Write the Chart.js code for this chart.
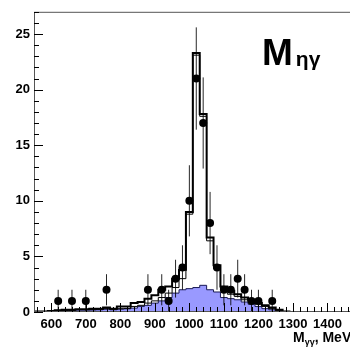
<!DOCTYPE html>
<html>
<head>
<meta charset="utf-8">
<script src="https://cdn.jsdelivr.net/npm/chart.js@4.4.1/dist/chart.umd.min.js"></script>
<style>
  html, body { margin: 0; padding: 0; overflow: hidden; background: #fff; }
  #wrap { width: 380px; height: 349px; }
</style>
</head>
<body>
<div id="wrap"><canvas id="myChart"></canvas></div>
<script>
    // 20 MeV bins
    var binWidth = 20;
    var binCenters = [560, 580, 600, 620, 640, 660, 680, 700, 720, 740, 760, 780, 800, 820, 840, 860, 880, 900, 920,
        940, 960, 980, 1000, 1020, 1040, 1060, 1080, 1100, 1120, 1140, 1160, 1180, 1200, 1220, 1240, 1260, 1280];
    var totalFit = [0.05, 0.05, 0.1, 0.15, 0.2, 0.2, 0.25, 0.25, 0.3, 0.3, 0.4, 0.3, 0.5, 0.5, 0.8, 0.9, 1.2, 1.5, 2.0,
        2.3, 3.0, 3.8, 9.0, 23.3, 17.8, 6.7, 4.2, 2.3, 1.9, 1.6, 1.3, 1.1, 0.8, 0.6, 0.4, 0.2, 0.05];
    var otherFit = [0.05, 0.05, 0.1, 0.1, 0.15, 0.15, 0.2, 0.2, 0.2, 0.25, 0.3, 0.25, 0.3, 0.3, 0.5, 0.6, 0.8, 1.0, 1.3,
        1.7, 2.2, 3.0, 8.8, 23.1, 17.6, 6.4, 3.9, 2.0, 1.6, 1.4, 1.1, 0.9, 0.7, 0.5, 0.3, 0.15, 0.05];
    var background = [0, 0, 0.1, 0.15, 0.15, 0.15, 0.2, 0.2, 0.2, 0.2, 0.25, 0.2, 0.25, 0.3, 0.35, 0.5, 0.6, 0.8, 1.0,
        1.3, 1.7, 2.0, 2.1, 2.2, 2.4, 2.0, 1.8, 1.3, 1.2, 1.1, 0.9, 0.7, 0.5, 0.3, 0.2, 0.1, 0];

    var dataMass = [620, 660, 700, 760, 880, 920, 940, 960, 980, 1000, 1020, 1040, 1060, 1080, 1100, 1120, 1140, 1160, 1180, 1200, 1240];
    var dataCounts = [1, 1, 1, 2, 2, 2, 1, 3, 4, 10, 21, 17, 8, 4, 2, 2, 3, 2, 1, 1, 1];
    var dataErrors = [1, 1, 1, 1.4, 1.4, 1.4, 1, 1.7, 2, 3.2, 4.6, 4.1, 2.8, 2, 1.4, 1.4, 1.7, 1.4, 1, 1, 1];

    var xTicks = [600, 700, 800, 900, 1000, 1100, 1200, 1300, 1400];
    var yTicks = [0, 5, 10, 15, 20, 25];

    function histPoints(values) {
        var pts = binCenters.map(function (c, i) {
            return { x: c - binWidth / 2, y: values[i] };
        });
        pts.push({ x: binCenters[binCenters.length - 1] + binWidth / 2, y: 0 });
        return pts;
    }

    var points = dataMass.map(function (m, i) {
        return { x: m, y: dataCounts[i] };
    });

    // error bars, drawn just before the data markers
    var errorBars = {
        id: 'errorBars',
        beforeDatasetDraw: function (chart, args) {
            if (args.index !== 0) return;
            var ctx = chart.ctx, xs = chart.scales.x, ys = chart.scales.y;
            ctx.save();
            ctx.strokeStyle = 'rgba(0,0,0,0.85)';
            ctx.lineWidth = 1;
            dataMass.forEach(function (m, i) {
                var px = xs.getPixelForValue(m);
                ctx.beginPath();
                ctx.moveTo(px, ys.getPixelForValue(dataCounts[i] - dataErrors[i]));
                ctx.lineTo(px, ys.getPixelForValue(dataCounts[i] + dataErrors[i]));
                ctx.stroke();
            });
            ctx.restore();
        }
    };

    // ROOT-like frame with inward ticks, plus labels
    var frame = {
        id: 'frame',
        afterDraw: function (chart) {
            var ctx = chart.ctx, a = chart.chartArea, xs = chart.scales.x, ys = chart.scales.y;
            ctx.save();
            ctx.strokeStyle = '#555';
            ctx.lineWidth = 1;
            ctx.strokeRect(a.left + 0.5, a.top + 0.5, a.right - a.left - 1, a.bottom - a.top - 1);

            ctx.strokeStyle = '#000';
            ctx.beginPath();
            for (var v = 0; v <= 27; v++) {
                var py = Math.round(ys.getPixelForValue(v)) + 0.5;
                var len = v % 5 === 0 ? 9 : 5;
                ctx.moveTo(a.left, py);
                ctx.lineTo(a.left + len, py);
            }
            for (var m = 560; m <= 1500; m += 20) {
                var px = Math.round(xs.getPixelForValue(m)) + 0.5;
                var l = m % 100 === 0 ? 9 : 5;
                ctx.moveTo(px, a.bottom);
                ctx.lineTo(px, a.bottom - l);
            }
            ctx.stroke();

            // big label
            ctx.fillStyle = '#000';
            ctx.textBaseline = 'alphabetic';
            ctx.font = 'bold 37px "Liberation Sans", Arial, sans-serif';
            ctx.fillText('M', 262, 65);
            var w = ctx.measureText('M').width;
            ctx.font = 'bold 21px "Liberation Sans", Arial, sans-serif';
            ctx.fillText('ηγ', 262 + w + 3, 66);

            // axis title
            var tx = 293, ty = 342;
            ctx.font = 'bold 14px "Liberation Sans", Arial, sans-serif';
            ctx.fillText('M', tx, ty);
            tx += ctx.measureText('M').width;
            ctx.font = 'bold 9px "Liberation Sans", Arial, sans-serif';
            ctx.fillText('γγ', tx, ty + 3);
            tx += ctx.measureText('γγ').width;
            ctx.font = 'bold 14px "Liberation Sans", Arial, sans-serif';
            ctx.fillText(', MeV', tx, ty);
            ctx.restore();
        }
    };

    var config = {
        type: 'line',
        data: {
            datasets: [{
                label: 'Data',
                type: 'scatter',
                data: points,
                pointRadius: 4,
                pointBackgroundColor: '#000',
                pointBorderColor: '#000',
                pointBorderWidth: 0,
                showLine: false,
                order: 0
            }, {
                label: 'Total',
                data: histPoints(totalFit),
                stepped: 'before',
                borderColor: '#000',
                borderWidth: 2,
                pointRadius: 0,
                fill: false,
                order: 1
            }, {
                label: 'Other',
                data: histPoints(otherFit),
                stepped: 'before',
                borderColor: '#000',
                borderWidth: 1,
                pointRadius: 0,
                fill: false,
                order: 2
            }, {
                label: 'Background',
                data: histPoints(background),
                stepped: 'before',
                borderColor: '#1a1a55',
                borderWidth: 1,
                backgroundColor: '#9999ff',
                pointRadius: 0,
                fill: 'origin',
                order: 3
            }]
        },
        options: {
            responsive: true,
            maintainAspectRatio: false,
            animation: false,
            layout: {
                padding: { top: 10, right: 18, left: 0, bottom: 0 }
            },
            plugins: {
                legend: { display: false },
                tooltip: { enabled: false }
            },
            scales: {
                x: {
                    type: 'linear',
                    min: 550,
                    max: 1500,
                    grid: { display: false, drawTicks: false },
                    border: { display: false },
                    afterBuildTicks: function (s) {
                        s.ticks = xTicks.map(function (v) { return { value: v }; });
                    },
                    afterFit: function (s) { s.height = 37; },
                    ticks: {
                        padding: 5,
                        maxRotation: 0,
                        autoSkip: false,
                        color: '#000',
                        callback: function (v) { return String(v); },
                        font: { family: '"Liberation Sans", Arial, sans-serif', size: 13, weight: 'bold' }
                    }
                },
                y: {
                    min: 0,
                    max: 27,
                    grid: { display: false, drawTicks: false },
                    border: { display: false },
                    afterBuildTicks: function (s) {
                        s.ticks = yTicks.map(function (v) { return { value: v }; });
                    },
                    afterFit: function (s) { s.width = 34; },
                    ticks: {
                        padding: 4,
                        color: '#000',
                        font: { family: '"Liberation Sans", Arial, sans-serif', size: 13, weight: 'bold' }
                    }
                }
            }
        },
        plugins: [errorBars, frame]
    };

    var myChart = new Chart(
        document.getElementById('myChart').getContext('2d'),
        config
    );
</script>
</body>
</html>
